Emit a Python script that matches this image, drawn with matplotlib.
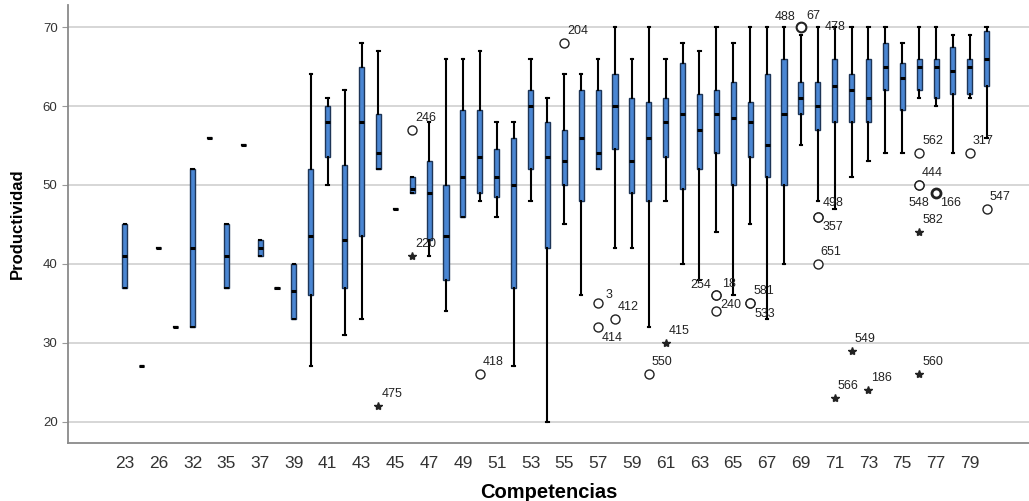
import matplotlib.pyplot as plt
import numpy as np

# categories of "Competencias" (only every other one gets a tick label)
cats = [23, 25, 26, 30, 32, 34, 35, 36, 37, 38,
        39, 40, 41, 42, 43, 44, 45, 46, 47, 48,
        49, 50, 51, 52, 53, 54, 55, 56, 57, 58,
        59, 60, 61, 62, 63, 64, 65, 66, 67, 68,
        69, 70, 71, 72, 73, 74, 75, 76, 77, 78,
        79, 80]

# box statistics per category
whis_lo = [37, 27, 42, 32, 32, 56, 37, 55, 41, 37,
           33, 27, 50, 31, 33, 52, 47, 49, 41, 34,
           46, 48, 46, 27, 48, 20, 45, 36, 52, 42,
           42, 32, 48, 40, 38, 44, 36, 45, 33, 40,
           55, 48, 47, 51, 53, 54, 54, 61, 60, 54,
           61, 56]
q1 = [37, 27, 42, 32, 32, 56, 37, 55, 41, 37,
      33, 36, 53.5, 37, 43.5, 52, 47, 49, 43, 38,
      46, 49, 48.5, 37, 52, 42, 50, 48, 52, 54.5,
      49, 48, 53.5, 49.5, 52, 54, 50, 53.5, 51, 50,
      59, 57, 58, 58, 58, 62, 59.5, 62, 61, 61.5,
      61.5, 62.5]
med = [41, 27, 42, 32, 42, 56, 41, 55, 42, 37,
       36.5, 43.5, 58, 43, 58, 54, 47, 49.5, 49, 43.5,
       51, 53.5, 51, 50, 60, 53.5, 53, 56, 54, 60,
       53, 56, 58, 59, 57, 59, 58.5, 58, 55, 59,
       61, 60, 62.5, 62, 61, 65, 63.5, 65, 65, 64.5,
       65, 66]
q3 = [45, 27, 42, 32, 52, 56, 45, 55, 43, 37,
      40, 52, 60, 52.5, 65, 59, 47, 51, 53, 50,
      59.5, 59.5, 54.5, 56, 62, 58, 57, 62, 62, 64,
      61, 60.5, 61, 65.5, 61.5, 62, 63, 60.5, 64, 66,
      63, 63, 66, 64, 66, 68, 65.5, 66, 66, 67.5,
      66, 69.5]
whis_hi = [45, 27, 42, 32, 52, 56, 45, 55, 43, 37,
           40, 64, 61, 62, 68, 67, 47, 51, 58, 66,
           66, 67, 58, 58, 66, 61, 64, 64, 66, 70,
           66, 70, 66, 68, 67, 70, 68, 70, 70, 70,
           69, 70, 70, 70, 70, 70, 68, 70, 70, 69,
           69, 70]

# outliers: category, value, symbol, case id
out_cat = [44, 46, 46, 50, 55, 57, 57, 58, 60, 61,
           64, 64, 64, 66, 66, 69, 69, 70, 70, 70,
           70, 71, 72, 73, 76, 76, 76, 76, 76, 77,
           79, 80]
out_val = [22, 57, 41, 26, 68, 35, 32, 33, 26, 30,
           36, 36, 34, 35, 35, 70, 70, 70, 46, 46,
           40, 23, 29, 24, 54, 50, 50, 44, 26, 49,
           54, 47]
out_sym = ['*', 'o', '*', 'o', 'o', 'o', 'o', 'o', 'o', '*',
           'o', 'o', 'o', 'o', 'o', 'o', 'o', '', 'o', 'o',
           'o', '*', '*', '*', 'o', 'o', 'o', '*', '*', 'o',
           'o', 'o']
out_id = ['475', '246', '220', '418', '204', '3', '414', '412', '550', '415',
          '254', '18', '240', '581', '533', '488', '67', '478', '498', '357',
          '651', '566', '549', '186', '562', '444', '548', '582', '560', '166',
          '317', '547']

# label placement (pixels) for ids that are not at the usual upper right
lab_off = {'414': (4, -11, 'left'), '357': (5, -10, 'left'), '533': (4, -11, 'left'),
           '166': (4, -10, 'left'), '254': (-5, 10, 'right'), '488': (-5, 10, 'right'),
           '240': (4, 6, 'left'), '548': (0, -18, 'center'), '478': (7, 0, 'left'),
           '3': (7, 8, 'left'), '18': (6, 11, 'left'), '67': (6, 11, 'left'),
           '498': (5, 14, 'left')}
bold_ids = ['488', '166']

plt.rcParams['font.family'] = ['Liberation Sans', 'DejaVu Sans']

fig = plt.figure(figsize=(10.29, 5.01), dpi=100)
ax = fig.add_axes([68 / 1029, 1 - 443 / 501, 1 - 68 / 1029, (443 - 5) / 501])

pos = np.arange(len(cats))
stats = []
for i in range(len(cats)):
    stats.append(dict(med=med[i], q1=q1[i], q3=q3[i],
                      whislo=whis_lo[i], whishi=whis_hi[i], fliers=[]))

ax.bxp(stats, positions=pos, widths=0.3, patch_artist=True, showfliers=False,
       capwidths=0.15,
       boxprops=dict(facecolor='#4a86d3', edgecolor='#1e3557', linewidth=1.0),
       medianprops=dict(color='black', linewidth=2.2, solid_capstyle='butt'),
       whiskerprops=dict(color='black', linewidth=1.5),
       capprops=dict(color='black', linewidth=1.5),
       zorder=3)

for c, v, s, lab in zip(out_cat, out_val, out_sym, out_id):
    x = cats.index(c)
    if s == 'o':
        ax.plot(x, v, 'o', ms=6.5, mfc='white', mec='#222222',
                mew=2.0 if lab in bold_ids else 1.0, zorder=4)
    elif s == '*':
        ax.plot(x, v, '*', ms=6, color='#222222', zorder=4)
    dx, dy, ha = lab_off.get(lab, (3, 12, 'left'))
    ax.annotate(lab, (x, v), xytext=(dx, dy), textcoords='offset pixels',
                ha=ha, va='center', fontsize=9, color='#222222', zorder=5)

ax.set_xlim(-3.37, 53.5)
ax.set_ylim(17.3, 72.8)
ax.set_yticks([20, 30, 40, 50, 60, 70])
ax.yaxis.grid(True, color='#cfcfcf', linewidth=1.2)
ax.set_axisbelow(True)

ax.set_xticks(pos[::2])
ax.set_xticklabels([str(c) for c in cats[::2]], fontsize=12.5, color='#333333')
ax.tick_params(axis='x', length=0, pad=9)
ax.tick_params(axis='y', labelsize=9.5, labelcolor='#333333', length=4,
               color='#999999', direction='out')

for side in ['top', 'right']:
    ax.spines[side].set_visible(False)
for side in ['left', 'bottom']:
    ax.spines[side].set_color('#8a8a8a')
    ax.spines[side].set_linewidth(1.3)

ax.set_xlabel('Competencias', fontsize=14.5, fontweight='bold', labelpad=9)
ax.set_ylabel('Productividad', fontsize=12, fontweight='bold', labelpad=13)

plt.savefig('out.png', dpi=100)
